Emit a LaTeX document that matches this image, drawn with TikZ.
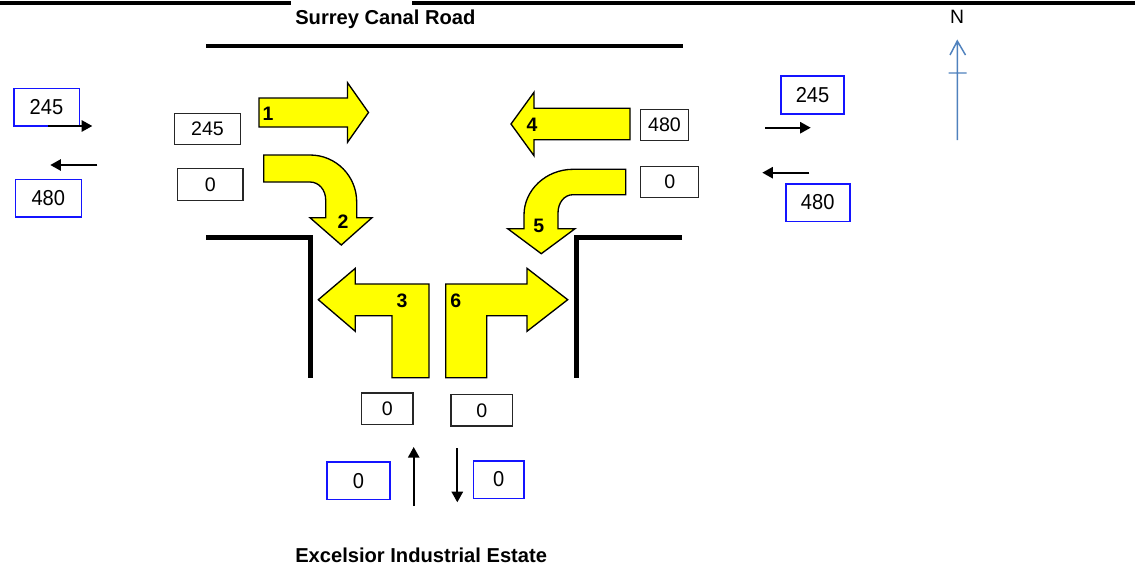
\documentclass[tikz,border=0pt]{standalone}
\usepackage{fontspec}
\setmainfont{Liberation Sans}
\newfontfamily\gatefont[FakeStretch=0.93]{Liberation Sans}
\usetikzlibrary{arrows.meta}
\definecolor{flowyellow}{RGB}{255,255,0}
\definecolor{gateblue}{RGB}{20,20,255}
\definecolor{northblue}{RGB}{79,129,189}
\newcommand{\pxu}{0.75pt}
\tikzset{
    road/.style={line width=3.6pt, line cap=butt},
    border/.style={line width=3.2pt},
    turn/.style={draw=black, fill=flowyellow, line width=1pt, line join=miter},
    turnlabel/.style={font=\fontsize{14.6}{15}\selectfont\bfseries, inner sep=0pt},
    common/.style={draw, rectangle, inner sep=0pt},
    countbox/.style={common, line width=1.1pt, draw=black!85, font=\fontsize{14.7}{16}\selectfont},
    gatebox/.style={common, line width=1.2pt, draw=gateblue, font=\gatefont\fontsize{16.2}{17}\selectfont},
    flow/.style={-{Triangle[length=8pt, width=8.5pt]}, line width=1.4pt},
    title/.style={anchor=base west, font=\fontsize{15.1}{16}\selectfont\bfseries, inner sep=0pt}
}
\begin{document}
\begin{tikzpicture}[x=\pxu, y=-\pxu]
      \useasboundingbox (0,0) rectangle (1135,568);

      % frame and road edges
      \draw[border] (0,2.7) -- (291,2.7) (412,2.7) -- (1135,2.7);
      \draw[road] (206,46) -- (683,46);
      \draw[road] (206,237.5) -- (310.5,237.5) -- (310.5,378);
      \draw[road] (682,237.5) -- (576.5,237.5) -- (576.5,378);

      \node[title] (surrey) at (295,24) {Surrey Canal Road};
      \node[title] (excelsior) at (295,562.7) {Excelsior Industrial Estate};

      % turning movements
      \draw[turn] (259,98) -- (347.5,98) -- (347.5,82.7) -- (368.5,112.5) -- (347.5,142.3) -- (347.5,127) -- (259,127) -- cycle;
      \draw[turn] (263.7,155) -- (310,155) .. controls (336,155) and (356.7,176) .. (356.7,202) -- (356.7,217.7) -- (372,217.7)
          -- (341.3,245) -- (310,217.7) -- (325.7,217.7) -- (325.7,200) .. controls (325.7,190) and (319,182) .. (310,182) -- (263.7,182) -- cycle;
      \draw[turn] (429,284) -- (355.3,284) -- (355.3,268.3) -- (318.3,299.7) -- (355.3,331.3) -- (355.3,315.7) -- (392,315.7) -- (392,377.7) -- (429,377.7) -- cycle;
      \draw[turn] (630,108.3) -- (534,108.3) -- (534,92.3) -- (511,124) -- (534,155.7) -- (534,139.7) -- (630,139.7) -- cycle;
      \draw[turn] (625.7,169.3) -- (573,169.3) .. controls (546,169.3) and (524,190) .. (524,215) -- (524,228.7) -- (507.7,228.7)
          -- (541.3,253.7) -- (575,228.7) -- (558,228.7) -- (558,213) .. controls (558,203) and (564,194.7) .. (573,194.7) -- (625.7,194.7) -- cycle;
      \draw[turn] (445.7,284) -- (527,284) -- (527,268.3) -- (567.7,299.7) -- (527,331.3) -- (527,315.7) -- (486.7,315.7) -- (486.7,377.7) -- (445.7,377.7) -- cycle;

      \node[turnlabel] (turn-1) at (268,113.5) {1};
      \node[turnlabel] (turn-2) at (343,222) {2};
      \node[turnlabel] (turn-3) at (402,300.5) {3};
      \node[turnlabel] (turn-4) at (532,124.5) {4};
      \node[turnlabel] (turn-5) at (538.7,225.5) {5};
      \node[turnlabel] (turn-6) at (455.7,300.5) {6};

      % counts at the junction
      \node[countbox, minimum width=65.6*\pxu, minimum height=31*\pxu] (count-w-in) at (207.5,129.2) {245};
      \node[countbox, minimum width=65.3*\pxu, minimum height=32*\pxu] (count-w-turn) at (210.3,184.3) {0};
      \node[countbox, minimum width=47.6*\pxu, minimum height=31*\pxu] (count-e-in) at (664.5,125.2) {480};
      \node[countbox, minimum width=58*\pxu, minimum height=31*\pxu] (count-e-turn) at (669.7,182.2) {0};
      \node[countbox, minimum width=51.7*\pxu, minimum height=31.3*\pxu] (count-s-left) at (387.2,408.7) {0};
      \node[countbox, minimum width=61.3*\pxu, minimum height=31.3*\pxu] (count-s-right) at (481.7,410.4) {0};

      % counts on the approaches
      \node[gatebox, minimum width=65.6*\pxu, minimum height=37.3*\pxu] (gate-w-out) at (46.5,107.3) {245};
      \node[gatebox, minimum width=66*\pxu, minimum height=37.4*\pxu] (gate-w-in) at (48.3,198) {480};
      \node[gatebox, minimum width=63*\pxu, minimum height=37.7*\pxu] (gate-e-out) at (812.5,94.9) {245};
      \node[gatebox, minimum width=64*\pxu, minimum height=37.6*\pxu] (gate-e-in) at (817.7,202.5) {480};
      \node[gatebox, minimum width=63*\pxu, minimum height=37.3*\pxu] (gate-s-left) at (358.5,480.7) {0};
      \node[gatebox, minimum width=50.7*\pxu, minimum height=37.6*\pxu] (gate-s-right) at (498.7,479.5) {0};

      \coordinate (w-out-a) at (48.3,126);
      \coordinate (w-out-b) at (92.3,126);
      \coordinate (w-in-a) at (97.3,165);
      \coordinate (w-in-b) at (50.3,165);
      \coordinate (e-out-a) at (765,127.7);
      \coordinate (e-out-b) at (810.7,127.7);
      \coordinate (e-in-a) at (809.3,172.7);
      \coordinate (e-in-b) at (762.3,172.7);
      \coordinate (s-in-a) at (413.7,506);
      \coordinate (s-in-b) at (413.7,447);
      \coordinate (s-out-a) at (457.3,448.3);
      \coordinate (s-out-b) at (457.3,502.3);

      \draw[flow] (w-out-a) -- (w-out-b);
      \draw[flow] (w-in-a) -- (w-in-b);
      \draw[flow] (e-out-a) -- (e-out-b);
      \draw[flow] (e-in-a) -- (e-in-b);
      \draw[flow] (s-in-a) -- (s-in-b);
      \draw[flow] (s-out-a) -- (s-out-b);

      % north point
      \node[inner sep=0pt, font=\fontsize{14.5}{16}\selectfont] (north) at (957,17) {N};
      \coordinate (north-foot) at (957.3,140);
      \coordinate (north-tip) at (957.3,41);
      \coordinate (north-left) at (950,55);
      \coordinate (north-right) at (965.5,55);
      \coordinate (north-bar-a) at (948.7,73);
      \coordinate (north-bar-b) at (966.7,73);
      \draw[northblue, line width=1.1pt] (north-foot) -- (north-tip) (north-left) -- (north-tip) -- (north-right) (north-bar-a) -- (north-bar-b);
    \end{tikzpicture}
\end{document}
